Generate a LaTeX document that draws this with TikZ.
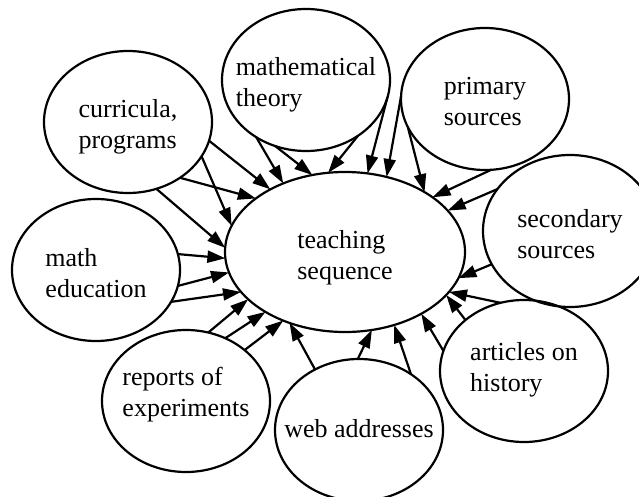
\documentclass[tikz,border=0pt]{standalone}
\usepackage{fontspec}
\setmainfont{Liberation Serif}
\usetikzlibrary{arrows.meta,shapes.geometric}

\begin{document}
\begin{tikzpicture}[x=1pt, y=-1pt,
		blob/.style={ellipse, draw, line width=2.2pt, inner sep=-45pt, outer sep=0pt,
			minimum width=168pt, minimum height=142pt, align=left,
			text height=58pt, text depth=4pt,
			font=\fontsize{26}{31}\selectfont},
		feed/.style={line width=2.2pt, -{Triangle[length=18pt,width=12pt]}}]
		\clip (0,0) rectangle (639,497);
		% Define nodes
		\node[blob, minimum width=240pt, minimum height=160pt] (teach) at (345,252) {teaching\\sequence};
		\node[blob] (curr) at (128,122) {curricula,\\programs};
		\node[blob] (theo) at (306,80) {mathematical\\theory};
		\node[blob] (prim) at (485,99) {primary\\sources};
		\node[blob, minimum width=174pt, minimum height=152pt] (sec) at (570,231) {secondary\\sources};
		\node[blob] (edu) at (96,270) {math\\education};
		\node[blob, text height=40pt, text depth=10pt] (rep) at (186,401) {reports of\\experiments};
		\node[blob, text height=18pt, text depth=4pt] (web) at (359,430) {web addresses};
		\node[blob, text height=44pt, text depth=4pt] (hist) at (524,371) {articles on\\history};
		
		% Draw arrows
		\draw[feed] (curr.-13.7) -- (teach.140.3);
		\draw[feed] (curr.-25.8) -- (teach.167.2);
		\draw[feed] (curr.-47.7) -- (teach.149.6);
		\draw[feed] (curr.-67.1) -- (teach.178);
		\draw[feed] (edu.11.8) -- (teach.183.8);
		\draw[feed] (edu.-11.2) -- (teach.190.8);
		\draw[feed] (edu.-23.5) -- (teach.201.3);
		\draw[feed] (rep.72.8) -- (teach.206.3);
		\draw[feed] (rep.58.9) -- (teach.217.5);
		\draw[feed] (rep.41) -- (teach.228.5);
		\draw[feed] (web.126.7) -- (teach.232.3);
		\draw[feed] (web.91.6) -- (teach.289.1);
		\draw[feed] (web.47.6) -- (teach.-56.7);
		\draw[feed] (hist.166.1) -- (teach.-39);
		\draw[feed] (hist.139.5) -- (teach.-23.9);
		\draw[feed] (hist.109.2) -- (teach.-21.3);
		\draw[feed] (sec.203.6) -- (teach.-13);
		\draw[feed] (sec.150.3) -- (teach.22.8);
		\draw[feed] (prim.-85.9) -- (teach.32.9);
		\draw[feed] (prim.200) -- (teach.37.2);
		\draw[feed] (prim.178) -- (teach.61.6);
		\draw[feed] (theo.-12.1) -- (teach.74.4);
		\draw[feed] (theo.-47.6) -- (teach.102.7);
		\draw[feed] (theo.-115.2) -- (teach.113.9);
		\draw[feed] (theo.-131.3) -- (teach.132.8);
	\end{tikzpicture}
\end{document}
